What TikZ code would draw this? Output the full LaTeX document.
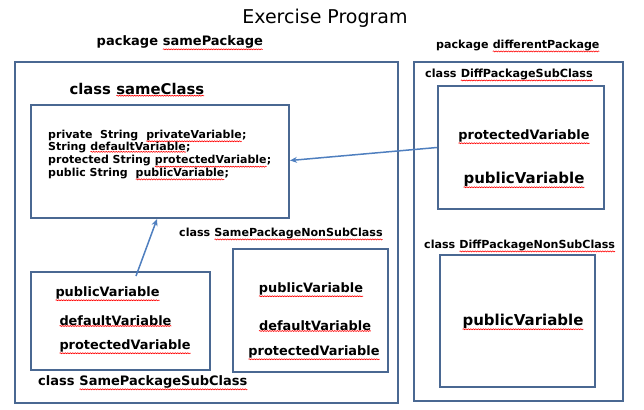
\documentclass[tikz,border=0pt]{standalone}
\usepackage{fontspec}
\setmainfont{DejaVu Sans}
\usetikzlibrary{arrows.meta,calc,decorations.pathmorphing}
\newcommand\rw[1]{\tikz[baseline=(w.base)]{\node[inner sep=0pt,outer sep=0pt] (w) {#1};
  \draw[red, line width=0.6pt, decorate, decoration={snake,amplitude=0.5pt,segment length=2.5pt}] ([yshift=-0.8pt]w.south west) -- ([yshift=-0.8pt]w.south east);}}
\definecolor{boxc}{HTML}{4A6892}
\definecolor{arrc}{HTML}{4F7FBF}
\tikzset{
  box/.style={draw=boxc, line width=2pt, inner sep=0pt},
  lbl/.style={font=\bfseries\fontsize{11}{13}\selectfont, inner sep=0pt},
  var/.style={font=\bfseries\fontsize{12.9}{14}\selectfont, inner sep=0pt},
  bigvar/.style={font=\bfseries\fontsize{15}{17}\selectfont, inner sep=0pt},
  arr/.style={draw=arrc, line width=1.5pt, -{Stealth[length=7pt,width=6pt]}},
}
\begin{document}
\begin{tikzpicture}[x=1pt,y=-1pt]
\useasboundingbox (0,0) rectangle (644,409);
\node[inner sep=0pt, font=\fontsize{19}{22}\selectfont] (title) at (325,18) {Exercise Program};
% left package
\node[lbl, font=\bfseries\fontsize{13}{15}\selectfont] (pkgA) at (180,43) {package \rw{samePackage}};
\node[box, minimum width=383, minimum height=341] (leftpkg) at (206.5,232.5) {};
\node[lbl, font=\bfseries\fontsize{14.8}{17}\selectfont] (scl) at (137,90) {class \rw{sameClass}};
\node[box, minimum width=258, minimum height=113] (same) at (160,161.5) {};
\node[anchor=west, font=\bfseries\fontsize{11}{12.7}\selectfont, align=left, inner sep=0pt] (code) at (48,155)
 {private\ \ String\ \ \rw{privateVariable};\\
  String \rw{defaultVariable};\\
  protected String \rw{protectedVariable};\\
  public String\ \ \rw{publicVariable};};
\node[lbl, font=\bfseries\fontsize{11.1}{13}\selectfont, anchor=west] (nscl) at (179,234) {class \rw{SamePackageNonSubClass}};
\node[box, minimum width=155, minimum height=123] (nonsub) at (310.5,310.5) {};
\node[var] (n1) at (311,290) {\rw{publicVariable}};
\node[var] (n2) at (315,326) {\rw{defaultVariable}};
\node[var] (n3) at (314,353) {\rw{protectedVariable}};
\node[box, minimum width=179, minimum height=98] (sub) at (120.5,321) {};
\node[var, anchor=west] (s1) at (55,294) {\rw{publicVariable}};
\node[var, anchor=west] (s2) at (59,321) {\rw{defaultVariable}};
\node[var, anchor=west] (s3) at (59,347) {\rw{protectedVariable}};
\node[lbl, font=\bfseries\fontsize{13}{15}\selectfont, anchor=west] (scll) at (38,383) {class \rw{SamePackageSubClass}};
% right package
\node[lbl, font=\bfseries\fontsize{11.1}{13}\selectfont] (pkgB) at (518,46) {package \rw{differentPackage}};
\node[box, minimum width=209, minimum height=339] (rightpkg) at (518.5,231.5) {};
\node[lbl, font=\bfseries\fontsize{11.2}{13}\selectfont, anchor=west] (dscl) at (425,75) {class \rw{DiffPackageSubClass}};
\node[box, minimum width=166, minimum height=123] (diffsub) at (521,147.5) {};
\node[var] (d1) at (524,137) {\rw{protectedVariable}};
\node[bigvar] (d2) at (524,180) {\rw{publicVariable}};
\node[lbl, font=\bfseries\fontsize{11.1}{13}\selectfont, anchor=west] (dncl) at (424,246) {class \rw{DiffPackageNonSubClass}};
\node[box, minimum width=155, minimum height=132] (diffnon) at (517.5,321) {};
\node[bigvar] (e1) at (523,322) {\rw{publicVariable}};
% arrows
\coordinate (subtop) at ($(sub.north)+(15.5,5)$);
\draw[arr] (diffsub.west) -- ($(same.east)+(0,-1)$);
\draw[arr] (subtop) -- ($(same.south)+(-3,0)$);
\end{tikzpicture}
\end{document}
